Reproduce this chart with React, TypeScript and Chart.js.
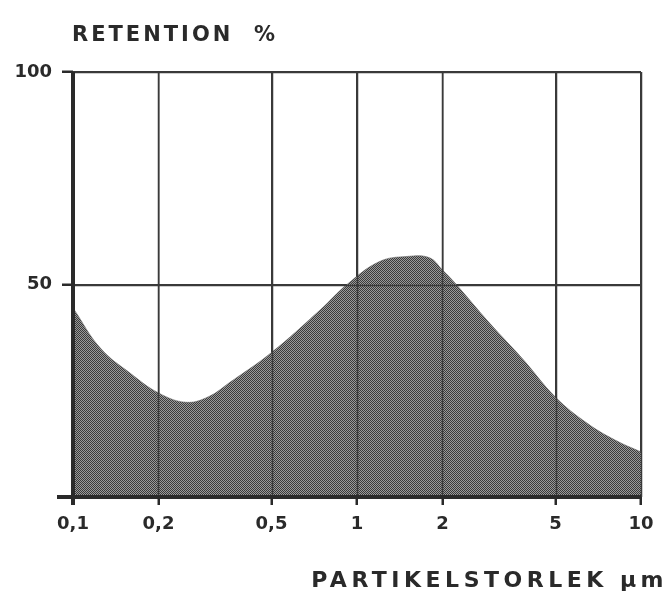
import React, { useEffect, useRef } from "react";
import { Chart, registerables } from "chart.js";

Chart.register(...registerables);

// Particle size (µm) and retention (%) along the curve
const particleSize = [
  0.1, 0.125, 0.16, 0.2, 0.25, 0.3, 0.357, 0.5, 0.741, 0.922,
  1.2, 1.5, 1.8, 2.0, 2.21, 2.94, 3.84, 5.0, 6.45, 8.1, 10,
];
const retention = [
  44.5, 35, 29, 24.5, 22.3, 23.6, 27, 34, 44, 50,
  55.4, 56.6, 56.3, 53.4, 50.4, 40.8, 32.4, 23.5, 17.4, 13.4, 10.6,
];

const xTicks = [0.1, 0.2, 0.5, 1, 2, 5, 10];
const xTickLabels = ["0,1", "0,2", "0,5", "1", "2", "5", "10"];
const yTicks = [0, 50, 100];
const yTickLabels = ["", "50", "100"];

const yTitle = "RETENTION  %";
const xTitle = "PARTIKELSTORLEK µm";

const INK = "#2a2a2a";
const GRID = "#3a3a3a";
const FONT = '"DejaVu Sans", sans-serif';

function makeStipple(): CanvasPattern | string {
  const c = document.createElement("canvas");
  c.width = 2;
  c.height = 2;
  const g = c.getContext("2d");
  if (!g) return "#606060";
  g.fillStyle = "#9a9a9a";
  g.fillRect(0, 0, 2, 2);
  g.fillStyle = "#3a3a3a";
  g.fillRect(0, 0, 1, 1);
  g.fillRect(1, 1, 1, 1);
  const p = g.createPattern(c, "repeat");
  return p || "#606060";
}

// Grid lines and axes painted on top of the shaded area
const overlayPlugin = {
  id: "overlay",
  afterDatasetsDraw(chart: any) {
    const { ctx, chartArea, scales } = chart;
    const x = scales.x;
    const y = scales.y;
    ctx.save();
    ctx.strokeStyle = GRID;
    ctx.lineWidth = 1.5;
    for (const v of xTicks.slice(1)) {
      const px = Math.round(x.getPixelForValue(v)) + 0.5;
      ctx.beginPath();
      ctx.moveTo(px, chartArea.top);
      ctx.lineTo(px, chartArea.bottom);
      ctx.stroke();
    }
    for (const v of [50, 100]) {
      const py = Math.round(y.getPixelForValue(v)) + 0.5;
      ctx.beginPath();
      ctx.moveTo(chartArea.left, py);
      ctx.lineTo(chartArea.right, py);
      ctx.stroke();
    }
    // thick axes
    ctx.strokeStyle = INK;
    ctx.lineWidth = 4;
    ctx.beginPath();
    ctx.moveTo(chartArea.left, chartArea.top);
    ctx.lineTo(chartArea.left, chartArea.bottom + 8);
    ctx.stroke();
    ctx.beginPath();
    ctx.moveTo(chartArea.left - 16, chartArea.bottom);
    ctx.lineTo(chartArea.right, chartArea.bottom);
    ctx.stroke();
    ctx.restore();
  },
  afterDraw(chart: any) {
    const { ctx, chartArea } = chart;
    ctx.save();
    ctx.fillStyle = INK;
    ctx.textBaseline = "alphabetic";
    ctx.font = `bold 21px ${FONT}`;
    ctx.letterSpacing = "3px";
    ctx.textAlign = "left";
    ctx.fillText(yTitle, chartArea.left - 1, 41);
    ctx.font = `bold 22px ${FONT}`;
    ctx.letterSpacing = "4.5px";
    ctx.textAlign = "right";
    ctx.fillText(xTitle, 668, 587);
    ctx.restore();
  },
};

export default function App() {
  const ref = useRef<HTMLCanvasElement | null>(null);

  useEffect(() => {
    if (!ref.current) return;
    const chart = new Chart(ref.current, {
      type: "line",
      data: {
        datasets: [
          {
            data: particleSize.map((s, i) => ({ x: s, y: retention[i] })),
            backgroundColor: makeStipple() as any,
            borderColor: "#555555",
            borderWidth: 0.5,
            pointRadius: 0,
            fill: "origin",
            tension: 0.4,
          },
        ],
      },
      options: {
        animation: false,
        responsive: false,
        maintainAspectRatio: false,
        layout: { padding: { top: 72, right: 28, left: 0, bottom: 0 } },
        plugins: {
          legend: { display: false },
          tooltip: { enabled: false },
        },
        scales: {
          x: {
            type: "logarithmic",
            min: 0.1,
            max: 10,
            afterFit(scale: any) {
              scale.height = 99;
            },
            afterBuildTicks(scale: any) {
              scale.ticks = xTicks.map((v) => ({ value: v }));
            },
            border: { display: false },
            grid: {
              color: GRID,
              lineWidth: 1.5,
              tickLength: 8,
              tickWidth: 2.5,
              tickColor: INK,
            },
            ticks: {
              autoSkip: false,
              maxRotation: 0,
              padding: 9,
              color: INK,
              font: { family: FONT, size: 18, weight: "bold" },
              callback: (_v: any, i: number) => xTickLabels[i],
            },
          },
          y: {
            min: 0,
            max: 100,
            afterFit(scale: any) {
              scale.width = 73;
            },
            afterBuildTicks(scale: any) {
              scale.ticks = yTicks.map((v) => ({ value: v }));
            },
            border: { display: false },
            grid: {
              color: GRID,
              lineWidth: 1.5,
              tickLength: 11,
              tickWidth: 2.5,
              tickColor: INK,
            },
            ticks: {
              padding: 10,
              color: INK,
              font: { family: FONT, size: 18, weight: "bold" },
              callback: (_v: any, i: number) => yTickLabels[i],
            },
          },
        },
      },
      plugins: [overlayPlugin],
    });
    return () => chart.destroy();
  }, []);

  return (
    <div style={{ position: "absolute", left: 0, top: 0, width: 669, height: 596, background: "#fff" }}>
      <canvas ref={ref} width={669} height={596} />
    </div>
  );
}
